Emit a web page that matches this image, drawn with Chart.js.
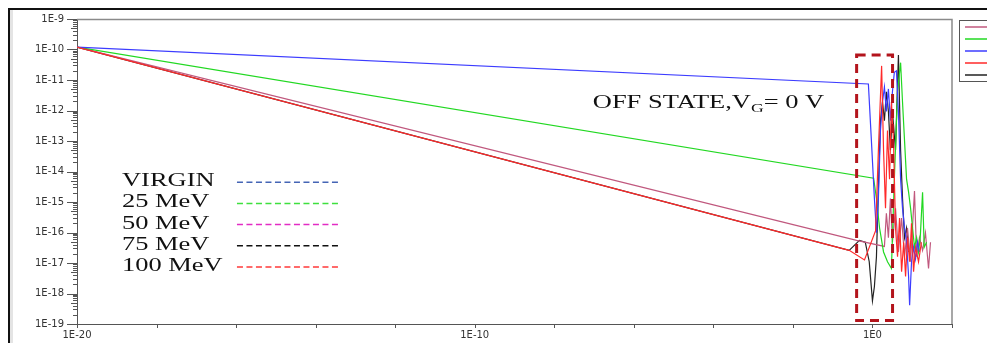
<!DOCTYPE html>
<html>
<head>
<meta charset="utf-8">
<script src="https://cdn.jsdelivr.net/npm/chart.js@4.4.1/dist/chart.umd.min.js"></script>
<style>
body { margin: 0; background: #fff; }
canvas { display: block; }
</style>
</head>
<body>
<canvas id="myChart" width="987" height="343"></canvas>
<script>
// Series (x and y pairs)
const virginX = [1e-20, 0.79, 0.94, 1.12, 1.26, 1.41, 1.59, 1.79, 2.0, 2.24, 2.52, 2.83, 3.18, 3.55, 4.0, 4.5, 5.1, 5.7, 6.4, 7.2, 8.1, 8.6, 9.6, 10.8, 12.1, 13.6, 15.2]
const virginY = [1.2e-10, 7.4e-12, 1.05e-13, 1.3e-15, 9.8e-17, 1.3e-15, 2.2e-13, 1.9e-12, 5.9e-12, 9.3e-13, 5.1e-12, 4.6e-13, 4.1e-12, 1.8e-11, 2.0e-11, 9.3e-13, 5.6e-15, 6.2e-16, 1.4e-16, 4.8e-17, 3.6e-18, 4.1e-19, 1.1e-17, 3.3e-17, 1.35e-17, 4.8e-17, 2.3e-17]

const mev25X = [1e-20, 1.07, 1.26, 1.51, 1.90, 2.39, 3.0, 3.55, 4.27, 5.1, 5.7, 6.4, 7.2, 8.1, 9.1, 10.2, 11.4, 12.9, 14.4, 15.9, 18.2, 20, 23]
const mev25Y = [1.2e-10, 6.0e-15, 1.3e-15, 1.4e-16, 2.3e-17, 1.1e-17, 6.6e-18, 5.6e-15, 4.1e-12, 3.7e-11, 1.9e-12, 1.05e-13, 5.6e-15, 2.1e-15, 6.2e-16, 1.4e-16, 3.3e-17, 6.8e-17, 2.3e-17, 6.8e-17, 2.1e-15, 3.3e-17, 4.8e-17]

const mev50X = [1e-20, 0.40, 2.0, 2.24, 2.52, 2.83, 3.18, 3.8, 4.5, 5.4, 6.4, 7.6, 9.1, 11.4, 12.9, 15.2, 18.2, 21.5, 25.7, 28.8]
const mev50Y = [1.2e-10, 5.5e-17, 3.5e-17, 4.3e-16, 6.8e-17, 1.3e-15, 4.8e-17, 6.2e-16, 2.3e-17, 3.0e-16, 1.6e-17, 1.4e-16, 1.1e-17, 2.3e-15, 1.6e-17, 6.8e-17, 2.6e-17, 9.8e-17, 6.6e-18, 4.8e-17]

const mev75X = [1e-20, 0.26, 0.33, 0.47, 0.66, 0.83, 1.0, 1.12, 1.26, 1.41, 1.59, 1.79, 2.0, 2.24, 2.52, 2.83, 3.18, 3.8, 4.5, 5.1, 5.7, 6.4, 7.2, 8.1]
const mev75Y = [1.2e-10, 2.6e-17, 3.5e-17, 5.5e-17, 4.8e-17, 1.1e-17, 5.8e-19, 1.7e-18, 1.6e-17, 2.7e-15, 4.6e-13, 1.9e-12, 4.6e-13, 4.1e-12, 9.3e-13, 5.0e-14, 9.3e-13, 5.0e-14, 6.6e-11, 5.0e-14, 1.3e-15, 6.8e-17, 1.4e-16, 2.3e-17]

const mev100X = [1e-20, 0.26, 0.63, 1.2, 1.41, 1.70, 1.90, 2.13, 2.39, 2.69, 3.0, 3.38, 3.8, 4.27, 4.8, 5.4, 6.1, 6.8, 7.6, 8.6, 9.6, 10.8, 12.1, 14.4, 17]
const mev100Y = [1.2e-10, 2.6e-17, 1.26e-17, 1.15e-16, 5.0e-14, 2.9e-11, 5.0e-14, 6.2e-16, 2.2e-13, 5.6e-15, 1.9e-12, 1.05e-13, 1.4e-16, 1.6e-17, 3.0e-16, 5.2e-18, 4.8e-17, 3.6e-18, 6.8e-17, 1.1e-17, 2.0e-16, 5.2e-18, 3.3e-17, 1.1e-17, 4.8e-17]

// Axis ticks
const xTickValues = [1e-20, 1e-10, 1]
const xTickLabels = ['1E-20', '1E-10', '1E0']
const yTickValues = [1e-9, 1e-10, 1e-11, 1e-12, 1e-13, 1e-14, 1e-15, 1e-16, 1e-17, 1e-18, 1e-19]
const yTickLabels = ['1E-9', '1E-10', '1E-11', '1E-12', '1E-13', '1E-14', '1E-15', '1E-16', '1E-17', '1E-18', '1E-19']

// Annotations
const legendNames = ['VIRGIN', '25 MeV', '50 MeV', '75 MeV', '100 MeV']
const legendDashColors = ['#4565b5', '#3ee03e', '#e22cc4', '#111111', '#ff3a3a']
const boxX = [0.40, 3.2]
const boxY = [1.3e-19, 6.6e-11]

function pairs(xs, ys) {
    return xs.map((x, i) => ({x: x, y: ys[i]}))
}

// Formatting
const colVirgin = '#3c3cff'
const col25 = '#22d822'
const col50 = '#c0587e'
const col75 = '#222222'
const col100 = '#ff2a2a'

// draws text squeezed like the original (stretched horizontally)
function wideText(c, txt, x, y, sx) {
    c.save()
    c.translate(x, y)
    c.scale(sx, 1)
    c.fillText(txt, 0, 0)
    const w = c.measureText(txt).width * sx
    c.restore()
    return w
}

const decorations = {
    id: 'decorations',
    beforeDraw(chart) {
        const c = chart.ctx
        c.save()
        c.fillStyle = '#fff'
        c.fillRect(0, 0, chart.width, chart.height)
        // outer picture frame
        c.fillStyle = '#e4e4e4'
        c.fillRect(10, 10, 3, chart.height)
        c.strokeStyle = '#111'
        c.lineWidth = 2
        c.beginPath()
        c.moveTo(9, chart.height)
        c.lineTo(9, 9)
        c.lineTo(chart.width, 9)
        c.stroke()
        c.restore()
    },
    afterDraw(chart) {
        const c = chart.ctx
        const xs = chart.scales.x
        const ys = chart.scales.y
        const area = chart.chartArea
        c.save()

        // plot frame
        c.strokeStyle = '#8a8a8a'
        c.lineWidth = 1.5
        c.beginPath()
        c.moveTo(area.left, area.top + 0.5)
        c.lineTo(area.right, area.top + 0.5)
        c.lineTo(area.right, area.bottom)
        c.stroke()

        // tick marks on y
        c.strokeStyle = '#555'
        c.lineWidth = 1
        c.beginPath()
        for (let e = -19; e <= -10; e++) {
            for (let m = 1; m < 10; m++) {
                const py = Math.round(ys.getPixelForValue(m * Math.pow(10, e))) + 0.5
                const len = m === 1 ? 10 : (m === 5 ? 6 : 4)
                c.moveTo(area.left - len, py)
                c.lineTo(area.left, py)
            }
        }
        const pTop = Math.round(ys.getPixelForValue(1e-9)) + 0.5
        c.moveTo(area.left - 10, pTop)
        c.lineTo(area.left, pTop)
        // tick marks on x, every two decades
        for (let e = -20; e <= 2; e += 2) {
            const px = Math.round(xs.getPixelForValue(Math.pow(10, e))) + 0.5
            c.moveTo(px, area.bottom)
            c.lineTo(px, area.bottom + 4)
        }
        c.stroke()

        // dashed box around the transition region
        const bx0 = xs.getPixelForValue(boxX[0])
        const bx1 = xs.getPixelForValue(boxX[1])
        const by0 = ys.getPixelForValue(boxY[1])
        const by1 = ys.getPixelForValue(boxY[0])
        c.strokeStyle = '#b3141c'
        c.lineWidth = 3
        c.setLineDash([9, 6])
        c.strokeRect(bx0, by0, bx1 - bx0, by1 - by0)
        c.setLineDash([])

        // text legend with dashed samples
        c.fillStyle = '#111'
        c.font = '18px "Liberation Serif", "Times New Roman", serif'
        c.textBaseline = 'alphabetic'
        const lx = xs.getPixelForValue(1.35e-19)
        const ly = ys.getPixelForValue(3.3e-15)
        legendNames.forEach((name, i) => {
            const y = ly + i * 21.2
            wideText(c, name, lx, y, 1.47)
            c.strokeStyle = legendDashColors[i]
            c.lineWidth = 1.5
            c.setLineDash([6, 3.5])
            c.beginPath()
            c.moveTo(lx + 115, y - 4)
            c.lineTo(lx + 219, y - 4)
            c.stroke()
            c.setLineDash([])
        })

        // OFF STATE label
        const ox = xs.getPixelForValue(9.3e-8)
        const oy = ys.getPixelForValue(1.2e-12)
        let w = wideText(c, 'OFF STATE,V', ox, oy, 1.47)
        c.font = '12px "Liberation Serif", "Times New Roman", serif'
        w += wideText(c, 'G', ox + w, oy + 4, 1.47)
        c.font = '18px "Liberation Serif", "Times New Roman", serif'
        wideText(c, '= 0 V', ox + w, oy, 1.47)

        // small series legend box at the top right (labels cut off)
        const boxLeft = area.right + 7
        c.strokeStyle = '#555'
        c.lineWidth = 1
        c.strokeRect(boxLeft + 0.5, area.top + 1.5, chart.width, 61)
        const keyColors = [col50, col25, colVirgin, col100, col75]
        keyColors.forEach((col, i) => {
            c.strokeStyle = col
            c.lineWidth = 1.5
            c.beginPath()
            c.moveTo(boxLeft + 6, area.top + 8 + i * 12)
            c.lineTo(chart.width, area.top + 8 + i * 12)
            c.stroke()
        })
        c.restore()
    }
}

function drawChart() {
    const ctx = document.getElementById('myChart').getContext('2d')
    const line = (data, color) => ({
        data: data,
        borderColor: color,
        borderWidth: 1.2,
        pointRadius: 0,
        fill: false,
        tension: 0
    })
    const config = {
        type: 'line',
        data: {
            datasets: [
                line(pairs(mev100X, mev100Y), col100),
                line(pairs(virginX, virginY), colVirgin),
                line(pairs(mev25X, mev25Y), col25),
                line(pairs(mev50X, mev50Y), col50),
                line(pairs(mev75X, mev75Y), col75)
            ]
        },
        plugins: [decorations],
        options: {
            responsive: false,
            animation: false,
            parsing: true,
            layout: {
                padding: {top: 15, right: 35, left: 0, bottom: 0}
            },
            plugins: {
                legend: {display: false},
                tooltip: {enabled: false}
            },
            scales: {
                x: {
                    type: 'logarithmic',
                    min: 1e-20,
                    max: 1e2,
                    grid: {display: false, drawTicks: false, tickLength: 0},
                    border: {display: true, color: '#555', width: 1},
                    afterBuildTicks: (scale) => {
                        scale.ticks = xTickValues.map(v => ({value: v}))
                    },
                    afterFit: (scale) => { scale.height = 14 },
                    ticks: {
                        autoSkip: false,
                        maxRotation: 0,
                        padding: 5,
                        color: '#333',
                        font: {family: 'DejaVu Sans', size: 10},
                        callback: (value, index) => xTickLabels[index]
                    }
                },
                y: {
                    type: 'logarithmic',
                    min: 1e-19,
                    max: 1e-9,
                    grid: {display: false, drawTicks: false, tickLength: 0},
                    border: {display: true, color: '#555', width: 1},
                    afterBuildTicks: (scale) => {
                        scale.ticks = yTickValues.map(v => ({value: v}))
                    },
                    afterFit: (scale) => { scale.width = 77 },
                    ticks: {
                        autoSkip: false,
                        padding: 13,
                        color: '#333',
                        font: {family: 'DejaVu Sans', size: 10},
                        callback: (value, index) => yTickLabels[index]
                    }
                }
            }
        }
    }
    new Chart(ctx, config)
}

drawChart()
</script>
</body>
</html>
